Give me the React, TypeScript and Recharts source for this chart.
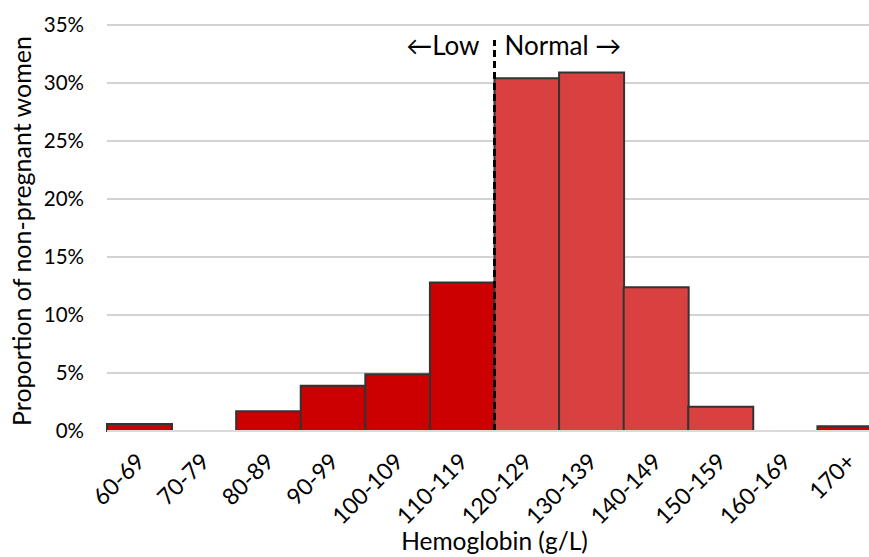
import React from "react";
import {
  BarChart,
  Bar,
  Cell,
  XAxis,
  YAxis,
  CartesianGrid,
  ReferenceLine,
} from "recharts";

const bins = ["60-69", "70-79", "80-89", "90-99", "100-109", "110-119", "120-129", "130-139", "140-149", "150-159", "160-169", "170+"];
const shares = [0.6, 0, 1.7, 3.9, 4.9, 12.8, 30.4, 30.9, 12.4, 2.1, 0, 0.4];
const status = ["low", "low", "low", "low", "low", "low", "normal", "normal", "normal", "normal", "high", "high"];
const yTicks = [0, 5, 10, 15, 20, 25, 30, 35];

// cut-off sits between 110-119 and 120-129 (bin index 6 on a 0..12 scale)
const cutIndex = 6;
const cutTop = 33.7;

const FONT = "Lato, 'Open Sans', sans-serif";
const DARK = "#cc0000";
const LIGHT = "#d94141";

const data = bins.map((b, i) => ({ bin: b, v: shares[i], idx: i + 0.5 }));

const XTick = (props: any) => {
  const { x, y, payload } = props;
  const tx = x + 7;
  const ty = y + 24;
  return (
    <text
      x={tx}
      y={ty}
      transform={`rotate(-45 ${tx} ${ty})`}
      textAnchor="end"
      fontSize={23}
      fontFamily={FONT}
      fill="#000"
    >
      {payload.value}
    </text>
  );
};

const CutLabel = (props: any) => {
  const vb = props.viewBox || {};
  const x = vb.x;
  const y = vb.y + 15;
  return (
    <g fontFamily={FONT} fontSize={26} fill="#000">
      <text x={x - 15} y={y} textAnchor="end">←Low</text>
      <text x={x + 10} y={y} textAnchor="start">Normal →</text>
    </g>
  );
};

const YLabel = (props: any) => {
  const vb = props.viewBox || {};
  const x = vb.x + 14;
  const y = vb.y + vb.height / 2 + 3;
  return (
    <text
      x={x}
      y={y}
      transform={`rotate(-90 ${x} ${y})`}
      textAnchor="middle"
      dominantBaseline="central"
      fontSize={25}
      fontFamily={FONT}
      fill="#000"
    >
      Proportion of non-pregnant women
    </text>
  );
};

export default function App() {
  return (
    <div style={{ position: "absolute", left: 0, top: 0, width: 869, height: 557, overflow: "hidden", background: "#fff" }}>
      <BarChart
        width={882}
        height={557}
        data={data}
        margin={{ top: 25, right: 0, bottom: 0, left: 7 }}
        barCategoryGap={0}
        barGap={0}
      >
        <CartesianGrid vertical={false} stroke="#c4c4c4" strokeWidth={1.5} />
        <XAxis
          dataKey="bin"
          interval={0}
          height={126}
          tick={<XTick />}
          tickLine={false}
          axisLine={{ stroke: "#d9d9d9", strokeWidth: 2 }}
          label={{
            value: "Hemoglobin (g/L)",
            position: "insideBottom",
            offset: 7,
            fontSize: 24.5,
            fontFamily: FONT,
            fill: "#000",
          }}
        />
        <XAxis xAxisId="num" type="number" dataKey="idx" domain={[0, bins.length]} hide />
        <YAxis
          domain={[0, 35]}
          ticks={yTicks}
          width={100}
          tickLine={false}
          axisLine={false}
          tickSize={0}
          tickMargin={23}
          tickFormatter={(v: number) => `${v}%`}
          tick={{ fontSize: 20.5, fontFamily: FONT, fill: "#000" }}
          label={<YLabel />}
        />
        <Bar dataKey="v" stroke="#333333" strokeWidth={2} isAnimationActive={false}>
          {data.map((d, i) => (
            <Cell key={d.bin} fill={status[i] === "normal" ? LIGHT : DARK} />
          ))}
        </Bar>
        <ReferenceLine
          xAxisId="num"
          segment={[{ x: cutIndex, y: 0 }, { x: cutIndex, y: cutTop }]}
          stroke="#000"
          strokeWidth={3}
          strokeDasharray="7 4"
          label={<CutLabel />}
        />
      </BarChart>
    </div>
  );
}
